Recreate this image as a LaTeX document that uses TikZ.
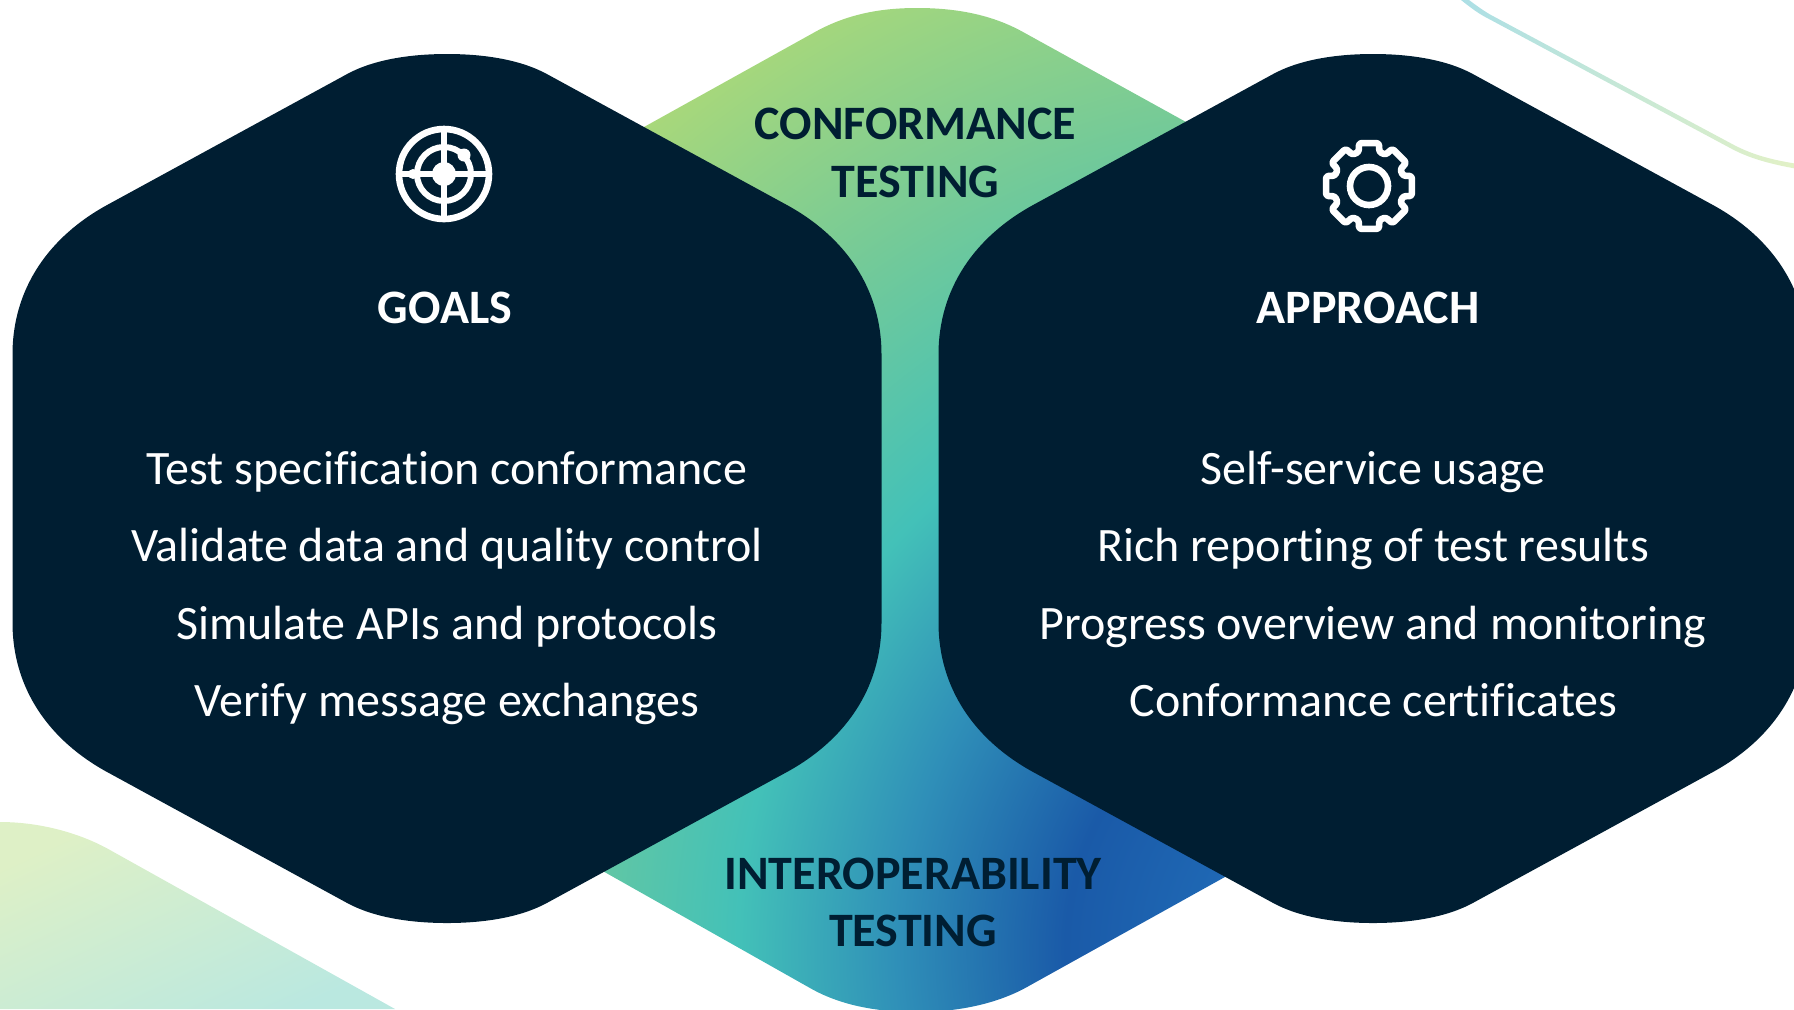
\documentclass[tikz,border=0pt]{standalone}
\usepackage{fontspec}
\setmainfont[Ligatures=CommonOff]{Carlito}
\definecolor{navy}{HTML}{001E32}
\definecolor{ga}{HTML}{2A74BC}
\definecolor{gb}{HTML}{1F68B4}
\definecolor{gc}{HTML}{1A5AA8}
\definecolor{gd}{HTML}{2F8FB8}
\definecolor{ge}{HTML}{43C1B8}
\definecolor{gf}{HTML}{74CA98}
\definecolor{gg}{HTML}{A9D87A}
\definecolor{palea}{HTML}{DEF0C6}
\definecolor{paleb}{HTML}{BAE8E0}
\definecolor{linea}{HTML}{ACDFE5}
\definecolor{lineb}{HTML}{E2F1C6}
\pgfdeclareradialshading{hexglow}{\pgfpointorigin}{%
 color(0bp)=(ga);color(73bp)=(gb);color(142bp)=(gc);color(225bp)=(gd);color(305bp)=(ge);color(420bp)=(gf);color(542bp)=(gg);color(600bp)=(gg)}
\tikzset{
 x=0.5pt,y=-0.5pt,
 bodytext/.style={text=white,font=\fontsize{24pt}{27pt}\selectfont,anchor=base,inner sep=0pt},
 headtext/.style={text=white,font=\bfseries\fontsize{24pt}{27pt}\selectfont,anchor=base,inner sep=0pt},
 darktext/.style={text=navy,font=\bfseries\fontsize{24pt}{27pt}\selectfont,anchor=base,inner sep=0pt},
 darkhex/.style={fill=navy,draw=none},
 iconline/.style={draw=white,line width=3.3pt},
}
\newcommand{\hexpath}[2]{
 (#1-434.5,#2-134) .. controls (#1-434.5,#2-200) and (#1-398,#2-252) .. (#1-339,#2-284)
 -- (#1-100,#2-414.4) .. controls (#1-74,#2-428.6) and (#1-38,#2-434.5) .. (#1,#2-434.5)
 .. controls (#1+38,#2-434.5) and (#1+74,#2-428.6) .. (#1+100,#2-414.4)
 -- (#1+339,#2-284) .. controls (#1+398,#2-252) and (#1+434.5,#2-200) .. (#1+434.5,#2-134)
 -- (#1+434.5,#2+134) .. controls (#1+434.5,#2+200) and (#1+398,#2+252) .. (#1+339,#2+284)
 -- (#1+100,#2+414.4) .. controls (#1+74,#2+428.6) and (#1+38,#2+434.5) .. (#1,#2+434.5)
 .. controls (#1-38,#2+434.5) and (#1-74,#2+428.6) .. (#1-100,#2+414.4)
 -- (#1-339,#2+284) .. controls (#1-398,#2+252) and (#1-434.5,#2+200) .. (#1-434.5,#2+134) -- cycle}
\begin{document}
\begin{tikzpicture}
\useasboundingbox (0,0) rectangle (1794,1009);
\clip (0,0) rectangle (1794,1009);
% pale background shapes
\shade[left color=palea,right color=paleb,shading angle=25]
 (0,822) .. controls (40,822) and (80,833) .. (110,850) -- (395,1009) -- (0,1009) -- cycle;
\shade[left color=linea,right color=lineb]
 (1469,0) .. controls (1477,6) and (1484,11) .. (1491,15) -- (1734,145) .. controls (1753,155) and (1773,160) .. (1795,163.5)
 -- (1795,168.5) .. controls (1771,164) and (1751,159) .. (1732,149) -- (1489,19) .. controls (1479,14) and (1471,8) .. (1461,0) -- cycle;
% central gradient hexagon
\begin{scope}
\clip (500,207) -- (815,32) .. controls (850,12.5) and (885,8) .. (917,8) .. controls (950,8) and (988,12.5) .. (1023,32)
 -- (1340,207) -- (1340,813) -- (1027,987) .. controls (992,1006.5) and (950,1012) .. (917,1012) .. controls (885,1012) and (845,1008) .. (810,988) -- (500,813) -- cycle;
\node[inner sep=0pt,outer sep=0pt] (glow) at (1350,950) {\pgfuseshading{hexglow}};
\end{scope}
% dark hexagons
\fill[darkhex] \hexpath{447}{488.5};
\fill[darkhex] \hexpath{1373}{488.5};
% target icon
\begin{scope}[shift={(444,174)}]
 \draw[iconline] (0,0) circle (45);
 \draw[draw=white,line width=3pt] (0,0) circle (27);
 \fill[white] (0,0) circle (12);
 \draw[draw=white,line width=3.2pt] (-44,0) -- (44,0) (0,-44) -- (0,44);
 \fill[white] (20,-19) circle (6.5);
 \fill[white] (-31,0) circle (5);
\end{scope}
% gear icon
\begin{scope}[shift={(1369,186)}]
 \draw[iconline] (0,0) circle (19);
 \draw[iconline,line join=round,rounded corners=1.2pt]
  (-13:44) -- (13:44) -- (17:35.5) -- (28:35.5)
  -- (32:44) -- (58:44) -- (62:35.5) -- (73:35.5)
  -- (77:44) -- (103:44) -- (107:35.5) -- (118:35.5)
  -- (122:44) -- (148:44) -- (152:35.5) -- (163:35.5)
  -- (167:44) -- (193:44) -- (197:35.5) -- (208:35.5)
  -- (212:44) -- (238:44) -- (242:35.5) -- (253:35.5)
  -- (257:44) -- (283:44) -- (287:35.5) -- (298:35.5)
  -- (302:44) -- (328:44) -- (332:35.5) -- (343:35.5) -- cycle;
\end{scope}
% texts
\node[darktext] (c1) at (915.5,139) {CONFORMANCE};
\node[darktext] (c2) at (915.5,197) {TESTING};
\node[darktext] (i1) at (913,889.5) {INTEROPERABILITY};
\node[darktext] (i2) at (913,946.5) {TESTING};
\node[headtext] (goals) at (445,323) {GOALS};
\node[headtext] (appr) at (1368,323) {APPROACH};
\node[bodytext] (g1) at (447,484.5) {Test specification conformance};
\node[bodytext] (g2) at (447,561.5) {Validate data and quality control};
\node[bodytext] (g3) at (447,639.5) {Simulate APIs and protocols};
\node[bodytext] (g4) at (447,716.5) {Verify message exchanges};
\node[bodytext] (a1) at (1373,484.5) {Self-service usage};
\node[bodytext] (a2) at (1373,561.5) {Rich reporting of test results};
\node[bodytext] (a3) at (1373,639.5) {Progress overview and monitoring};
\node[bodytext] (a4) at (1373.5,716.5) {Conformance certificates};
\end{tikzpicture}
\end{document}
